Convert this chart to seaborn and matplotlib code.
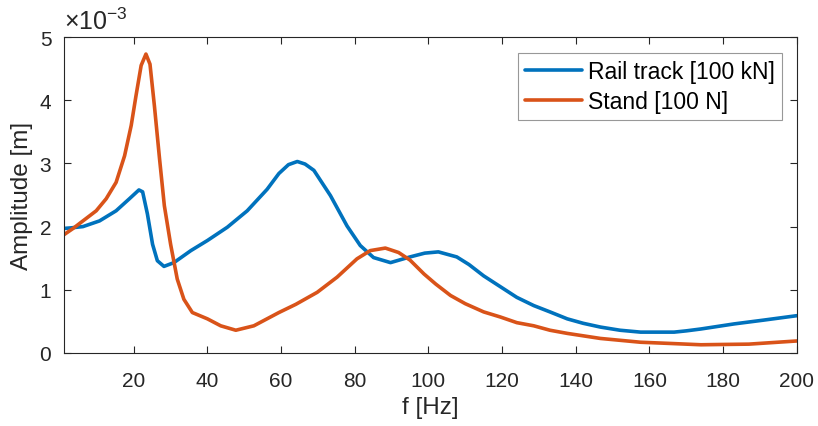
import numpy as np
import pandas as pd
import matplotlib
matplotlib.use("Agg")
import matplotlib.pyplot as plt
import seaborn as sns

# --- data (amplitude in units of 1e-3 m) ---
rail_f = [1, 3, 6.2, 10.7, 15.2, 18.8, 21.4, 22.4, 23.7, 25.1, 26.4, 28.2, 30.9, 35.5,
          40, 45.4, 50.8, 56.2, 59.4, 62, 64.4, 66.5, 68.9, 73.4, 77.9, 81.5, 85.1, 89.7,
          95, 99, 102.7, 107.7, 111, 115, 119.5, 124, 128.6, 133, 137.7, 142, 146.7, 152,
          157.6, 162, 166.7, 170, 174, 183, 191, 200]
rail_amp = [1.97, 1.98, 2.0, 2.09, 2.25, 2.44, 2.58, 2.55, 2.2, 1.72, 1.46, 1.37, 1.43, 1.62,
            1.78, 1.99, 2.25, 2.59, 2.84, 2.98, 3.03, 2.99, 2.89, 2.49, 2.01, 1.70, 1.51, 1.43,
            1.52, 1.58, 1.6, 1.52, 1.40, 1.22, 1.05, 0.88, 0.75, 0.65, 0.54, 0.47, 0.41, 0.36,
            0.33, 0.33, 0.33, 0.35, 0.38, 0.46, 0.52, 0.59]

stand_f = [1, 3.5, 6.2, 9.8, 12.5, 15.2, 17.5, 19.3, 20.6, 22, 23.3, 24.4, 25.6, 27, 28.3,
           30, 31.8, 33.6, 35.9, 40, 43.6, 47.7, 52.6, 59.4, 64, 69.8, 75.2, 80.6, 84.2,
           88.3, 91.9, 95, 98.8, 102, 106, 110, 115, 119.5, 124, 128.6, 133, 137.7, 146.7,
           157.6, 166, 174, 180, 187, 200]
stand_amp = [1.87, 1.97, 2.09, 2.25, 2.44, 2.70, 3.12, 3.60, 4.07, 4.55, 4.73, 4.57, 3.91,
             3.07, 2.33, 1.72, 1.17, 0.85, 0.64, 0.54, 0.43, 0.36, 0.43, 0.64, 0.77, 0.96,
             1.20, 1.49, 1.62, 1.66, 1.59, 1.47, 1.25, 1.09, 0.91, 0.78, 0.65, 0.57, 0.48,
             0.43, 0.36, 0.31, 0.23, 0.17, 0.15, 0.13, 0.135, 0.14, 0.19]

series_names = ["Rail track [100 kN]", "Stand [100 N]"]
x_ticks = [20, 40, 60, 80, 100, 120, 140, 160, 180, 200]
y_ticks = [0, 1, 2, 3, 4, 5]

BLUE = "#0072BD"
ORANGE = "#D95319"
INK = "#262626"

sns.set_theme(style="white")
plt.rcParams["font.family"] = ["Liberation Sans", "DejaVu Sans"]
plt.rcParams["mathtext.fontset"] = "custom"
plt.rcParams["mathtext.rm"] = "Liberation Sans"
plt.rcParams["mathtext.it"] = "Liberation Sans"

df = pd.concat([
    pd.DataFrame({"f": rail_f, "amp": rail_amp, "series": series_names[0]}),
    pd.DataFrame({"f": stand_f, "amp": stand_amp, "series": series_names[1]}),
])

fig = plt.figure(figsize=(8.18, 4.27), dpi=100)
ax = fig.add_axes([0.078, 0.171, 0.896, 0.740])

sns.lineplot(data=df, x="f", y="amp", hue="series", sort=False,
             palette=[BLUE, ORANGE], linewidth=2.6, ax=ax)
for ln in ax.get_lines():
    ln.set_solid_joinstyle("round")
    ln.set_solid_capstyle("round")

ax.set_xlim(1, 200)
ax.set_ylim(0, 5)
ax.set_xticks(x_ticks)
ax.set_yticks(y_ticks)
ax.tick_params(direction="in", length=5, width=0.8, colors=INK, labelsize=15,
               top=True, right=True, bottom=True, left=True)
ax.tick_params(axis="x", pad=13)
ax.tick_params(axis="y", pad=9)
for s in ax.spines.values():
    s.set_visible(True)
    s.set_color(INK)
    s.set_linewidth(0.8)

ax.set_xlabel("f [Hz]", fontsize=17.5, color=INK, labelpad=4)
ax.set_ylabel("Amplitude [m]", fontsize=17.5, color=INK, labelpad=5)
ax.text(0.0, 1.01, r"$\times10^{-3}$", transform=ax.transAxes, fontsize=18,
        color=INK, ha="left", va="bottom")

leg = ax.legend(loc="upper right", bbox_to_anchor=(0.9796, 0.949), fontsize=16.5,
                frameon=True, fancybox=False, handlelength=2.5, handletextpad=0.25,
                borderpad=0.3, labelspacing=0.3, borderaxespad=0)
leg.get_frame().set_edgecolor("#7f7f7f")
leg.get_frame().set_linewidth(0.8)
for line in leg.get_lines():
    line.set_linewidth(2.6)
for t in leg.get_texts():
    t.set_color("black")

fig.savefig("out.png", dpi=100)
